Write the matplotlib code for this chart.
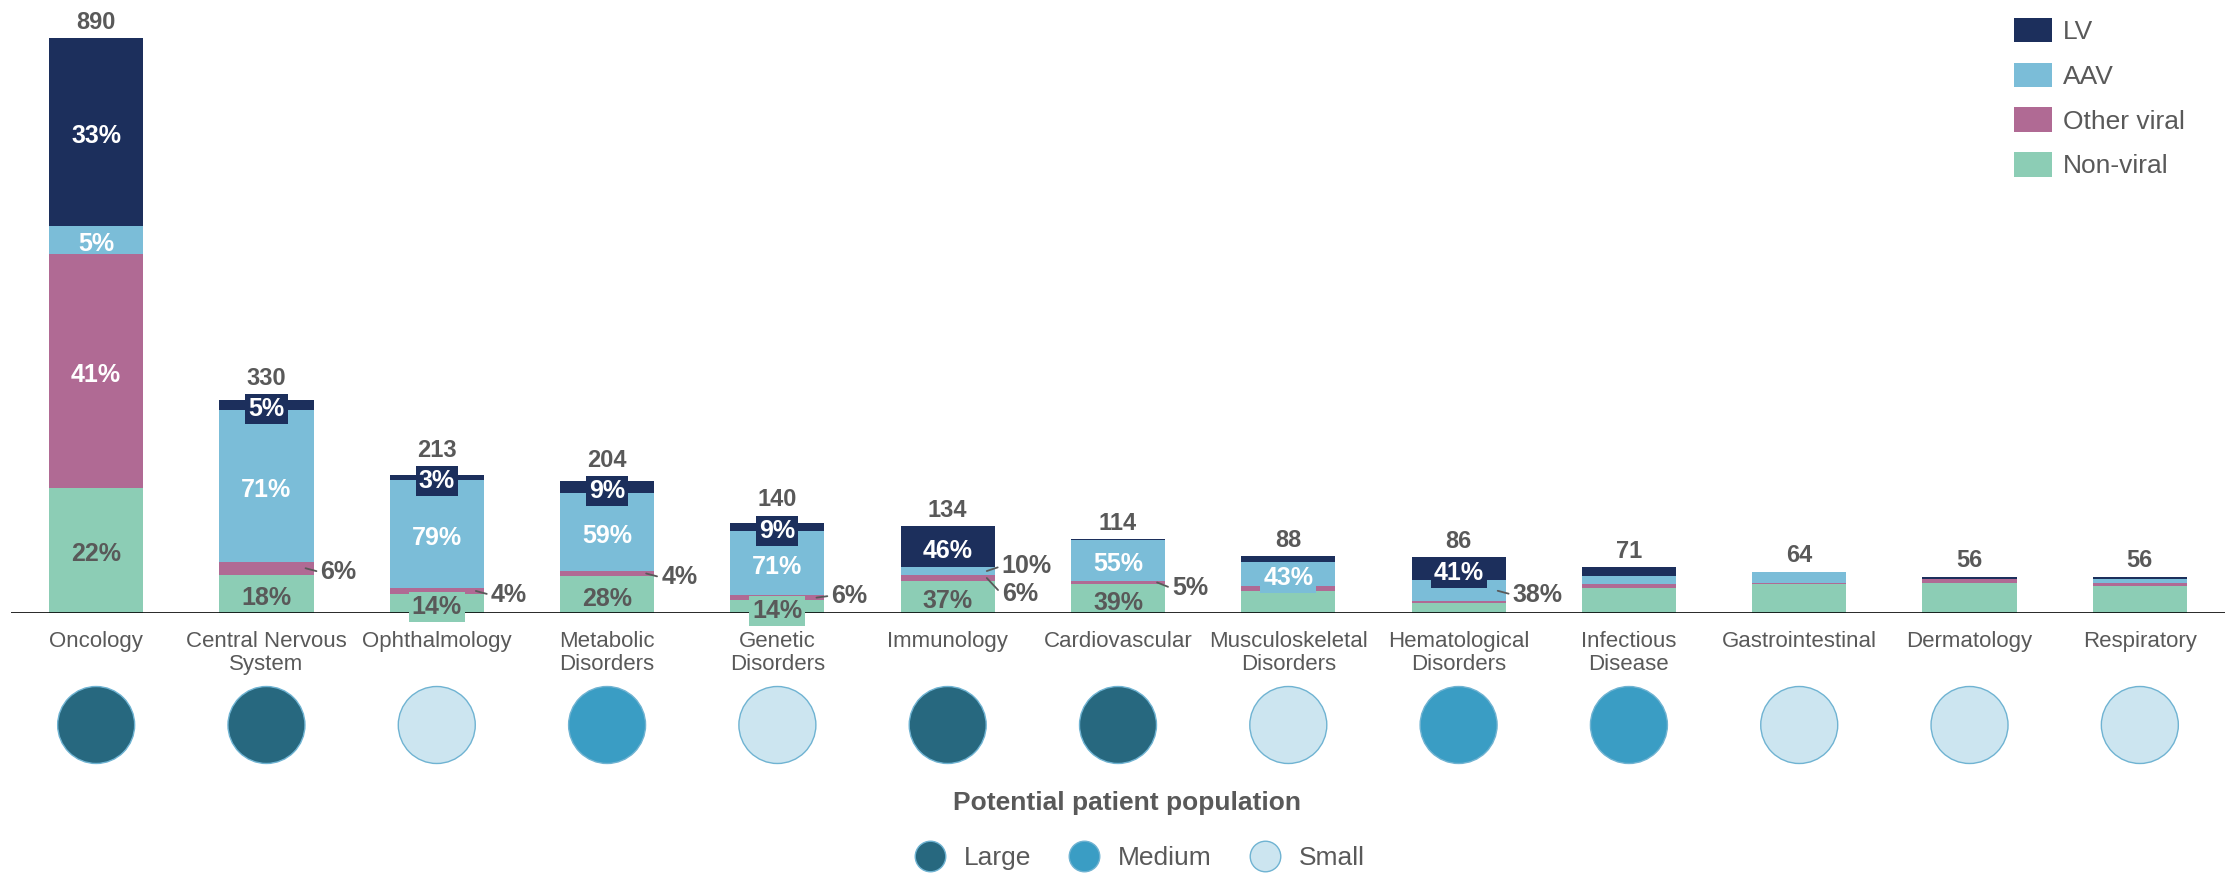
import numpy as np
import matplotlib
matplotlib.use("Agg")
import matplotlib.pyplot as plt
from matplotlib.patches import Patch
from matplotlib.lines import Line2D

plt.rcParams['font.family'] = ['Liberation Sans', 'DejaVu Sans']

# data
categories = ["Oncology", "Central Nervous\nSystem", "Ophthalmology", "Metabolic\nDisorders",
              "Genetic\nDisorders", "Immunology", "Cardiovascular", "Musculoskeletal\nDisorders",
              "Hematological\nDisorders", "Infectious\nDisease", "Gastrointestinal",
              "Dermatology", "Respiratory"]
totals = [890, 330, 213, 204, 140, 134, 114, 88, 86, 71, 64, 56, 56]
lv_pct = [33, 5, 3, 9, 9, 46, 1, 10, 41, 20, 2, 6, 7]
aav_pct = [5, 71, 79, 59, 71, 10, 55, 43, 38, 17, 25, 0, 9]
other_pct = [41, 6, 4, 4, 6, 6, 5, 9, 3, 9, 4, 11, 10]
nonviral_pct = [22, 18, 14, 28, 14, 37, 39, 38, 18, 54, 69, 83, 74]
population = ["Large", "Large", "Small", "Medium", "Small", "Large", "Large",
              "Small", "Medium", "Medium", "Small", "Small", "Small"]

series = ["LV", "AAV", "Other viral", "Non-viral"]
colors = {"LV": "#1C2F5C", "AAV": "#7BBDD8", "Other viral": "#B06A94", "Non-viral": "#8CCDB5"}
pop_colors = {"Large": "#27687F", "Medium": "#3A9DC4", "Small": "#CCE5F0"}
gray = "#595959"

# which segment labels are shown: (category, series, mode, dy in px, + = down)
seg_labels = [
    (0, "LV", "in", 0), (0, "AAV", "in", 0), (0, "Other viral", "in", 0), (0, "Non-viral", "in", 0),
    (1, "LV", "box", 0), (1, "AAV", "in", 0), (1, "Other viral", "out", 0), (1, "Non-viral", "in", 0),
    (2, "LV", "box", 0), (2, "AAV", "in", 0), (2, "Other viral", "out", 0), (2, "Non-viral", "box", 0),
    (3, "LV", "box", 0), (3, "AAV", "in", 0), (3, "Other viral", "out", 0), (3, "Non-viral", "in", 0),
    (4, "LV", "box", 0), (4, "AAV", "in", 0), (4, "Other viral", "out", -6), (4, "Non-viral", "box", 0),
    (5, "LV", "in", 0), (5, "AAV", "out", -9), (5, "Other viral", "out", 12), (5, "Non-viral", "in", 0),
    (6, "AAV", "in", 0), (6, "Other viral", "out", 2), (6, "Non-viral", "in", 0),
    (7, "AAV", "box", 0),
    (8, "LV", "box", 0), (8, "AAV", "out", 0),
]

W, H = 2237, 874
fig = plt.figure(figsize=(W / 100, H / 100), dpi=100)
base_px = 613
ax_w = 2214
ax = fig.add_axes([11 / W, (H - base_px) / H, ax_w / W, base_px / H])
ymax = 949
ax.set_ylim(0, ymax)
ax.set_xlim(-0.5, 12.5)
ppu = base_px / ymax          # px per value unit
ppx = ax_w / 13               # px per category
tshift = -4                   # nudge text down a little

x = np.arange(len(categories))
pct = {"LV": np.array(lv_pct, float), "AAV": np.array(aav_pct, float),
       "Other viral": np.array(other_pct, float), "Non-viral": np.array(nonviral_pct, float)}
rowsum = sum(pct.values())
heights = {s: pct[s] / rowsum * np.array(totals) for s in series}

bw = 0.553
bottom = np.zeros(len(x))
centers = {}
for s in ["Non-viral", "Other viral", "AAV", "LV"]:
    ax.bar(x, heights[s], bw, bottom=bottom, color=colors[s], zorder=1)
    centers[s] = bottom + heights[s] / 2
    bottom = bottom + heights[s]

ax.axhline(0, color="black", lw=1.9, zorder=2)

for i, s, mode, dy in seg_labels:
    p = int(pct[s][i])
    yc = centers[s][i]
    tcol = gray if s == "Non-viral" else "white"
    if mode == "out":
        ax.annotate(f"{p}%", xy=(i + bw / 2 - 8 / ppx, yc), xytext=(15, -dy + tshift),
                    textcoords="offset pixels", ha="left", va="center",
                    fontsize=18, fontweight="bold", color=gray,
                    arrowprops=dict(arrowstyle="-", color=gray, lw=1.3,
                                    shrinkA=1, shrinkB=0, relpos=(0, 0.5)))
    else:
        bbox = None
        if mode == "box":
            bbox = dict(boxstyle="square,pad=0.12", fc=colors[s], ec="none")
        ax.annotate(f"{p}%", xy=(i, yc), xytext=(0, tshift), textcoords="offset pixels",
                    ha="center", va="center", fontsize=18, fontweight="bold",
                    color=tcol, bbox=bbox, zorder=4)

# totals above bars
box_lv = {i for i, s, m, _ in seg_labels if s == "LV" and m == "box"}
for i, t in enumerate(totals):
    off = 20
    if i in box_lv:
        off = max(20, 16 - heights["LV"][i] * ppu / 2 + 15)
    ax.annotate(str(t), xy=(i, t), xytext=(0, off + tshift), textcoords="offset pixels",
                ha="center", va="center", fontsize=17, fontweight="bold", color=gray)

ax.set_xticks(x, categories, fontsize=16, color=gray)
plt.setp(ax.get_xticklabels(), linespacing=1.1)
ax.tick_params(axis="x", length=0, pad=13)
ax.set_yticks([])
for sp in ax.spines.values():
    sp.set_visible(False)

# population circles
circ_px = 725
ax2 = fig.add_axes([11 / W, (H - circ_px) / H - 0.06, ax_w / W, 0.12])
ax2.set_xlim(-0.5, 12.5)
ax2.set_ylim(-1, 1)
ax2.axis("off")
ax2.scatter(x, np.zeros(len(x)), s=(77 / 1.389) ** 2,
            c=[pop_colors[p] for p in population], edgecolors="#6FB3D2", linewidths=1)

fig.text(0.504, (H - 803) / H, "Potential patient population", ha="center", va="center",
         fontsize=19, fontweight="bold", color=gray)

pop_handles = [Line2D([], [], marker="o", ls="", ms=22, mfc=pop_colors[k], mec="#6FB3D2")
               for k in ["Large", "Medium", "Small"]]
fig.legend(pop_handles, ["Large", "Medium", "Small"], loc="center",
           bbox_to_anchor=(0.507, (H - 858) / H), ncol=3, frameon=False, fontsize=19,
           handletextpad=0.3, columnspacing=1.0, labelcolor=gray, borderpad=0)

top_handles = [Patch(fc=colors[s], ec="none") for s in series]
fig.legend(top_handles, series, loc="upper left", bbox_to_anchor=(2014 / W, 1 - 18 / H),
           frameon=False, fontsize=19, handlelength=1.45, handleheight=1.05,
           labelspacing=0.7, handletextpad=0.42, borderpad=0, borderaxespad=0,
           labelcolor=gray)

fig.savefig("out.png", dpi=100)
